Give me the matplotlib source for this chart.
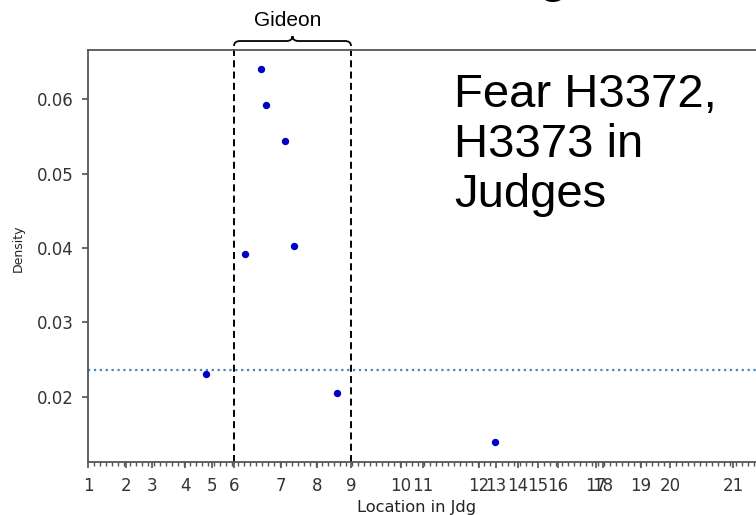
import matplotlib.pyplot as plt
import matplotlib.transforms as mtransforms
from matplotlib.path import Path
from matplotlib.patches import PathPatch
from matplotlib.ticker import FixedLocator, MultipleLocator

# where each chapter of Judges starts along the location axis
chapter_pos = [0, 38, 64, 97, 124, 146, 193, 229, 263, 313, 335, 391, 408,
               430, 450, 470, 508, 515, 553, 582, 645]
chapter_labels = [str(i) for i in range(1, 22)]

# occurrences of fear (H3372, H3373)
loc = [118, 157, 173, 178, 197, 206, 249, 407]
density = [0.0231, 0.0392, 0.0640, 0.0592, 0.0543, 0.0403, 0.0205, 0.0140]

baseline = 0.0236
gideon = (6, 9)  # chapters 6-8 boxed

fig = plt.figure(figsize=(7.56, 5.15), dpi=100)
ax = fig.add_axes([88 / 756, 53 / 515, 682 / 756, 412 / 515])
ax.set_xlim(0, 682)
ax.set_ylim(0.01127, 0.06658)

ax.scatter(loc, density, s=28, color='#0000c8', linewidths=0, zorder=3)
ax.axhline(baseline, color='#4a86b4', ls=':', lw=1.6, zorder=2)

# dashed box round Gideon's chapters, with a brace on top
trans = mtransforms.blended_transform_factory(ax.transData, ax.transAxes)
x0 = chapter_pos[gideon[0] - 1]
x1 = chapter_pos[gideon[1] - 1]
for x in (x0, x1):
    ax.plot([x, x], [0, 1.0097], transform=trans, color='black',
            ls=(0, (3.6, 2.2)), lw=1.4, clip_on=False, zorder=2)

xc = (x0 + x1) / 2
y_lo, y_h, y_top = 1.0097, 1.0218, 1.034
verts = [(x0, y_lo), (x0, y_h), (x0 + 6, y_h),
         (xc - 6, y_h), (xc, y_h), (xc, y_top),
         (xc, y_h), (xc + 6, y_h),
         (x1 - 6, y_h), (x1, y_h), (x1, y_lo)]
codes = [Path.MOVETO, Path.CURVE3, Path.CURVE3,
         Path.LINETO, Path.CURVE3, Path.CURVE3,
         Path.CURVE3, Path.CURVE3,
         Path.LINETO, Path.CURVE3, Path.CURVE3]
ax.add_patch(PathPatch(Path(verts, codes), transform=trans, fill=False,
                       edgecolor='black', lw=1.3, clip_on=False))

fig.text(288 / 756, 1 - 20 / 515, 'Gideon', ha='center', va='center',
         fontsize=15, family='Liberation Sans')

# ticks and labels
ax.xaxis.set_major_locator(FixedLocator(chapter_pos))
ax.set_xticklabels(chapter_labels)
ax.xaxis.set_minor_locator(MultipleLocator(6))
ax.set_yticks([0.02, 0.03, 0.04, 0.05, 0.06])
ax.set_yticklabels(['0.02', '0.03', '0.04', '0.05', '0.06'])
ax.tick_params(which='major', length=4, width=1.1, pad=6.5,
               labelsize=12, color='#444444', labelcolor='#333333')
ax.tick_params(which='minor', length=3, width=1.0, color='#555555')
for s in ax.spines.values():
    s.set_color('#555555')
    s.set_linewidth(1.3)

ax.set_xlabel('Location in Jdg', fontsize=11.7, color='#222222')
ax.xaxis.set_label_coords((417 - 88) / 682, -0.092)
ax.set_ylabel('Density', fontsize=9, color='#222222')
ax.yaxis.set_label_coords((25 - 88) / 682, 0.519)

# slide overlay text
for line, yb in zip(['Fear H3372,', 'H3373 in', 'Judges'], [107, 157, 207]):
    fig.text(454 / 756, 1 - yb / 515, line, ha='left', va='baseline',
             fontsize=34, family='Liberation Sans', color='black')
# bottom of a slide title cut off by the top edge
fig.text(553 / 756, 1 - 2 / 515, 'g', ha='center', va='bottom',
         fontsize=40, family='Liberation Sans', color='black')

fig.savefig('out.png', dpi=100)
